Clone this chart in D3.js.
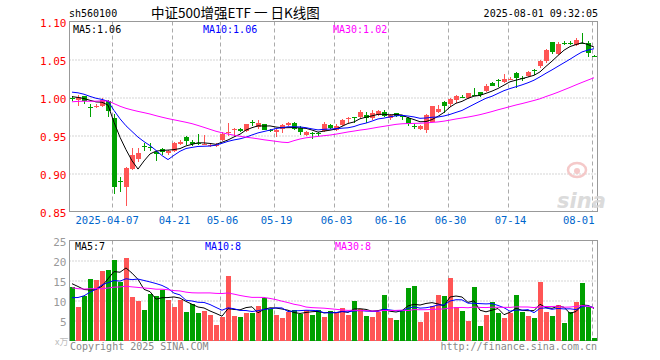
<!DOCTYPE html>
<html><head><meta charset="utf-8">
<script src="https://cdn.jsdelivr.net/npm/d3@7"></script>
<style>body{margin:0;background:#fff}svg{display:block}</style>
</head><body><svg id="c" width="660" height="360"></svg>
<script>
const dates = ["03-26","03-27","03-28","03-31","04-01","04-02","04-03","04-07","04-08","04-09","04-10","04-11","04-14","04-15","04-16","04-17","04-18","04-21","04-22","04-23","04-24","04-25","04-28","04-29","04-30","05-06","05-07","05-08","05-09","05-12","05-13","05-14","05-15","05-16","05-19","05-20","05-21","05-22","05-23","05-26","05-27","05-28","05-29","05-30","06-03","06-04","06-05","06-06","06-09","06-10","06-11","06-12","06-13","06-16","06-17","06-18","06-19","06-20","06-23","06-24","06-25","06-26","06-27","06-30","07-01","07-02","07-03","07-04","07-07","07-08","07-09","07-10","07-11","07-14","07-15","07-16","07-17","07-18","07-21","07-22","07-23","07-24","07-25","07-28","07-29","07-30","07-31","08-01"];
const opens = [0.9990,0.9965,1.0017,0.9880,0.9875,0.9890,0.9950,0.9724,0.8895,0.8824,0.9053,0.9190,0.9365,0.9355,0.9280,0.9320,0.9270,0.9297,0.9386,0.9482,0.9408,0.9397,0.9384,0.9370,0.9365,0.9438,0.9535,0.9580,0.9580,0.9560,0.9683,0.9613,0.9645,0.9573,0.9540,0.9592,0.9636,0.9670,0.9600,0.9504,0.9528,0.9537,0.9560,0.9636,0.9570,0.9636,0.9720,0.9748,0.9737,0.9767,0.9724,0.9767,0.9810,0.9724,0.9790,0.9756,0.9724,0.9628,0.9580,0.9570,0.9680,0.9810,0.9943,0.9908,0.9965,1.0013,0.9995,1.0032,1.0066,1.0083,1.0190,1.0230,1.0205,1.0247,1.0320,1.0256,1.0284,1.0365,1.0408,1.0474,1.0724,1.0570,1.0716,1.0716,1.0692,1.0716,1.0714,1.0545];
const highs = [1.0020,1.0030,1.0020,0.9920,0.9910,0.9990,0.9965,0.9785,0.8960,0.9080,0.9340,0.9340,0.9400,0.9400,0.9290,0.9340,0.9310,0.9420,0.9440,0.9500,0.9440,0.9517,0.9505,0.9395,0.9400,0.9550,0.9658,0.9600,0.9600,0.9650,0.9705,0.9705,0.9650,0.9585,0.9585,0.9650,0.9675,0.9675,0.9620,0.9555,0.9543,0.9550,0.9680,0.9645,0.9645,0.9720,0.9750,0.9750,0.9830,0.9810,0.9830,0.9830,0.9840,0.9785,0.9800,0.9770,0.9740,0.9650,0.9635,0.9780,0.9890,0.9900,0.9960,0.9990,1.0030,1.0030,1.0065,1.0120,1.0075,1.0180,1.0200,1.0250,1.0307,1.0265,1.0335,1.0285,1.0345,1.0380,1.0490,1.0640,1.0730,1.0730,1.0738,1.0738,1.0785,1.0846,1.0738,1.0555];
const lows = [0.9960,0.9890,0.9910,0.9745,0.9860,0.9870,0.9745,0.8725,0.8760,0.8574,0.9040,0.9150,0.9300,0.9300,0.9170,0.9240,0.9240,0.9280,0.9370,0.9370,0.9360,0.9370,0.9370,0.9350,0.9350,0.9428,0.9500,0.9500,0.9540,0.9550,0.9625,0.9590,0.9570,0.9550,0.9480,0.9535,0.9620,0.9570,0.9510,0.9500,0.9460,0.9487,0.9550,0.9580,0.9560,0.9630,0.9660,0.9660,0.9730,0.9660,0.9710,0.9760,0.9740,0.9700,0.9740,0.9710,0.9620,0.9590,0.9570,0.9534,0.9680,0.9795,0.9790,0.9880,0.9930,0.9990,0.9980,1.0015,1.0010,1.0070,1.0145,1.0140,1.0185,1.0235,1.0130,1.0220,1.0275,1.0300,1.0385,1.0460,1.0575,1.0560,1.0685,1.0690,1.0680,1.0700,1.0535,1.0530];
const closes = [0.9985,1.0010,0.9955,0.9875,0.9885,0.9965,0.9820,0.8824,0.8890,0.9066,0.9240,0.9270,0.9360,0.9350,0.9254,0.9284,0.9290,0.9395,0.9416,0.9430,0.9386,0.9395,0.9386,0.9380,0.9370,0.9526,0.9545,0.9585,0.9560,0.9645,0.9680,0.9666,0.9570,0.9570,0.9570,0.9636,0.9670,0.9580,0.9540,0.9543,0.9526,0.9535,0.9645,0.9600,0.9622,0.9700,0.9724,0.9745,0.9810,0.9724,0.9790,0.9820,0.9754,0.9767,0.9754,0.9754,0.9645,0.9626,0.9626,0.9767,0.9886,0.9855,0.9886,0.9978,1.0017,1.0010,1.0053,1.0030,1.0030,1.0153,1.0153,1.0228,1.0250,1.0250,1.0260,1.0254,1.0333,1.0363,1.0474,1.0626,1.0596,1.0701,1.0714,1.0714,1.0758,1.0714,1.0583,1.0540];
const volumes = [13.3,8.5,11.25,15.4,15.25,17.5,17.75,20.25,14.6,20.6,11,10,7.75,11.7,11.25,12.75,10.25,8.5,10.25,7.1,9.2,6.8,7.3,6.5,4.0,5.8,16.25,6.25,6.0,6.8,6.8,8.75,10.6,7.9,6.5,5.6,7.25,7.75,6.7,7.75,6.5,7.75,5.8,7.5,7.1,8.2,6.5,10,7.9,6.25,6.0,7.25,11.5,5.6,5.25,7.75,13.1,13.6,4.6,7.25,8.75,11.5,11.25,15.6,8.5,7.5,4.8,13.3,3.75,6.5,9.6,6.8,5.6,6.8,11.5,7.1,6.25,5.7,14.75,7.25,6.25,9.0,4.3,7.1,9.6,14.3,8.5,0.6];
// sessions before the first visible day (estimated from where the MA lines begin)
const priorCloses = [0.985,0.988,0.990,0.986,0.983,0.985,0.989,0.992,0.990,0.987,0.984,0.986,0.989,0.991,0.988,0.985,0.987,0.990,0.992,0.993,1.010,1.014,1.016,1.013,1.012,1.006,1.003,0.999,0.999];
const priorVolumes = [16,14,13,15,18,12,14,13,15,16,14,12,15,17,13,14,15,13,16,14,8,7,6.5,7.5,7,12,15,16,14.7];
const priceTicks = [1.10,1.05,1.00,0.95,0.90,0.85];
const volumeTicks = [25,20,15,10,5];
const dateTicks = ["04-07","04-21","05-06","05-19","06-03","06-16","06-30","07-14","08-01"];
const maPeriods = [5,10,30];
const maColors = ["#000000","#0000ff","#ff00ff"];
const priceLegend = ["1.06","1.06","1.02"];
const volumeLegend = ["7","8","8"];

const svg = d3.select("#c");
const L = 69.5, R = 597.5;
const mono = "'DejaVu Sans Mono', 'Liberation Mono', monospace";
const UP = "#ff5555", DOWN = "#00a000", GRID = "#aaaaaa", FRAME = "#999999";

const x = d3.scaleBand().domain(dates).range([L, R]).padding(0);
const cx = d => x(d) + 3;
const yP = d3.scaleLinear().domain([0.85, 1.10]).range([211.5, 21.5]);
const yV = d3.scaleLinear().domain([0, 25]).range([340.5, 240.5]);

function movingAvg(prior, vals, n) {
  const all = prior.concat(vals);
  const off = prior.length;
  return vals.map((v, i) => d3.mean(all.slice(off + i - n + 1, off + i + 1)));
}

const rows = dates.map((d, i) => ({d, o: opens[i], h: highs[i], l: lows[i], c: closes[i], v: volumes[i], up: closes[i] >= opens[i]}));

// header
svg.append("text").attr("x", 69).attr("y", 17).attr("font-family", mono).attr("font-size", 10).attr("fill", "#000").text("sh560100");
svg.append("text").attr("x", 151).attr("y", 18).attr("font-family", "'Noto Sans CJK SC', sans-serif").attr("font-size", 13.5).attr("fill", "#000").text("中证500增强ETF 一 日K线图");
svg.append("text").attr("x", 598).attr("y", 17).attr("text-anchor", "end").attr("font-family", mono).attr("font-size", 10).attr("fill", "#000").text("2025-08-01 09:32:05");

function panel(y, top, bottom, gridTicks, axisTicks, fmt, labelColor) {
  const g = svg.append("g");
  // horizontal dotted grid
  g.append("g").attr("transform", `translate(${L},0)`)
    .call(d3.axisLeft(y).tickValues(gridTicks).tickSize(-(R - L)).tickFormat(""))
    .call(s => s.select(".domain").remove())
    .call(s => s.selectAll("line").attr("stroke", GRID).attr("stroke-dasharray", "1,2"));
  // vertical dashed grid
  g.selectAll(".vg").data(dateTicks).enter().append("line")
    .attr("x1", d => x(d) + 1).attr("x2", d => x(d) + 1)
    .attr("y1", top).attr("y2", bottom)
    .attr("stroke", GRID).attr("stroke-dasharray", "4,3");
  // frame
  g.append("rect").attr("x", L).attr("y", top).attr("width", R - L).attr("height", bottom - top)
    .attr("fill", "none").attr("stroke", FRAME);
  // y labels
  g.append("g").attr("transform", `translate(${L},0)`)
    .call(d3.axisLeft(y).tickValues(axisTicks).tickSize(0).tickPadding(3).tickFormat(fmt))
    .call(s => s.select(".domain").remove())
    .call(s => s.selectAll("text").attr("fill", labelColor).attr("font-family", mono).attr("font-size", 11).attr("dy", "0.45em"));
  return g;
}

panel(yP, 21.5, 211.5, [1.05, 1.00, 0.95, 0.90], priceTicks, d3.format(".2f"), "#ff0000");
panel(yV, 240.5, 340.5, [20, 15, 10, 5], volumeTicks, d3.format("d"), "#999999");

// x labels
svg.append("g").attr("transform", `translate(0,211.5)`)
  .call(d3.axisBottom(x).tickValues(dateTicks).tickSize(0).tickPadding(5)
    .tickFormat((d, i) => i === 0 ? "2025-" + d : d))
  .call(s => s.select(".domain").remove())
  .call(s => s.selectAll("text").attr("fill", "#0066cc").attr("font-family", mono).attr("font-size", 10.5))
  .call(s => s.selectAll(".tick").filter((d, i) => i === 0).select("text").attr("text-anchor", "start").attr("x", -39))
  .call(s => s.selectAll(".tick").filter((d, i) => i === dateTicks.length - 1).select("text").attr("text-anchor", "end").attr("x", 0));

// sina watermark
const wm = svg.append("g").attr("opacity", 0.9);
wm.append("ellipse").attr("cx", 577).attr("cy", 170).attr("rx", 9).attr("ry", 7).attr("fill", "none").attr("stroke", "#f4c4c4").attr("stroke-width", 2.5);
wm.append("circle").attr("cx", 577).attr("cy", 171).attr("r", 3).attr("fill", "#f4c4c4");
wm.append("text").attr("x", 557).attr("y", 208).attr("font-family", "'DejaVu Sans', sans-serif").attr("font-weight", "bold").attr("font-style", "italic").attr("font-size", 21).attr("fill", "#d8d8d8").text("sina");

// candles
const cg = svg.append("g").attr("shape-rendering", "crispEdges");
cg.selectAll(".wick").data(rows).enter().append("line")
  .attr("x1", d => cx(d.d) - 0.5).attr("x2", d => cx(d.d) - 0.5)
  .attr("y1", d => yP(d.h)).attr("y2", d => yP(d.l))
  .attr("stroke", d => d.up ? UP : DOWN);
cg.selectAll(".body").data(rows).enter().append("rect")
  .attr("x", d => x(d.d) + 0.5).attr("width", 5)
  .attr("y", d => Math.min(yP(d.o), yP(d.c)))
  .attr("height", d => Math.max(1, Math.abs(yP(d.o) - yP(d.c))))
  .attr("fill", d => d.up ? UP : DOWN);

// volume bars
cg.selectAll(".vol").data(rows).enter().append("rect")
  .attr("x", d => x(d.d) + 0.5).attr("width", 5)
  .attr("y", d => yV(d.v)).attr("height", d => yV(0) - yV(d.v))
  .attr("fill", d => d.up ? UP : DOWN);

// moving averages
maPeriods.forEach((n, k) => {
  const pm = movingAvg(priorCloses, closes, n);
  const vm = movingAvg(priorVolumes, volumes, n);
  svg.append("path").datum(pm).attr("fill", "none").attr("stroke", maColors[k]).attr("stroke-width", 1)
    .attr("d", d3.line().x((v, i) => cx(dates[i]) - 0.5).y(v => yP(v)));
  svg.append("path").datum(vm).attr("fill", "none").attr("stroke", maColors[k]).attr("stroke-width", 1)
    .attr("d", d3.line().x((v, i) => cx(dates[i]) - 0.5).y(v => yV(v)));
});

// legends
const legX = [73, 203, 333];
maPeriods.forEach((n, k) => {
  svg.append("text").attr("x", legX[k]).attr("y", 33).attr("font-family", mono).attr("font-size", 10).attr("fill", maColors[k]).text(`MA${n}:${priceLegend[k]}`);
  svg.append("text").attr("x", legX[k] + 2).attr("y", 250).attr("font-family", mono).attr("font-size", 10).attr("fill", maColors[k]).text(`MA${n}:${volumeLegend[k]}`);
});

// footer
svg.append("text").attr("x", 55).attr("y", 345).attr("font-family", "'Noto Sans CJK SC', sans-serif").attr("font-size", 9).attr("fill", "#bbbbbb").text("x万");
svg.append("text").attr("x", 70).attr("y", 350).attr("font-family", mono).attr("font-size", 10).attr("fill", "#888888").text("Copyright 2025 SINA.COM");
svg.append("text").attr("x", 597).attr("y", 350).attr("text-anchor", "end").attr("font-family", mono).attr("font-size", 10).attr("fill", "#888888").text("http://finance.sina.com.cn");
</script></body></html>
